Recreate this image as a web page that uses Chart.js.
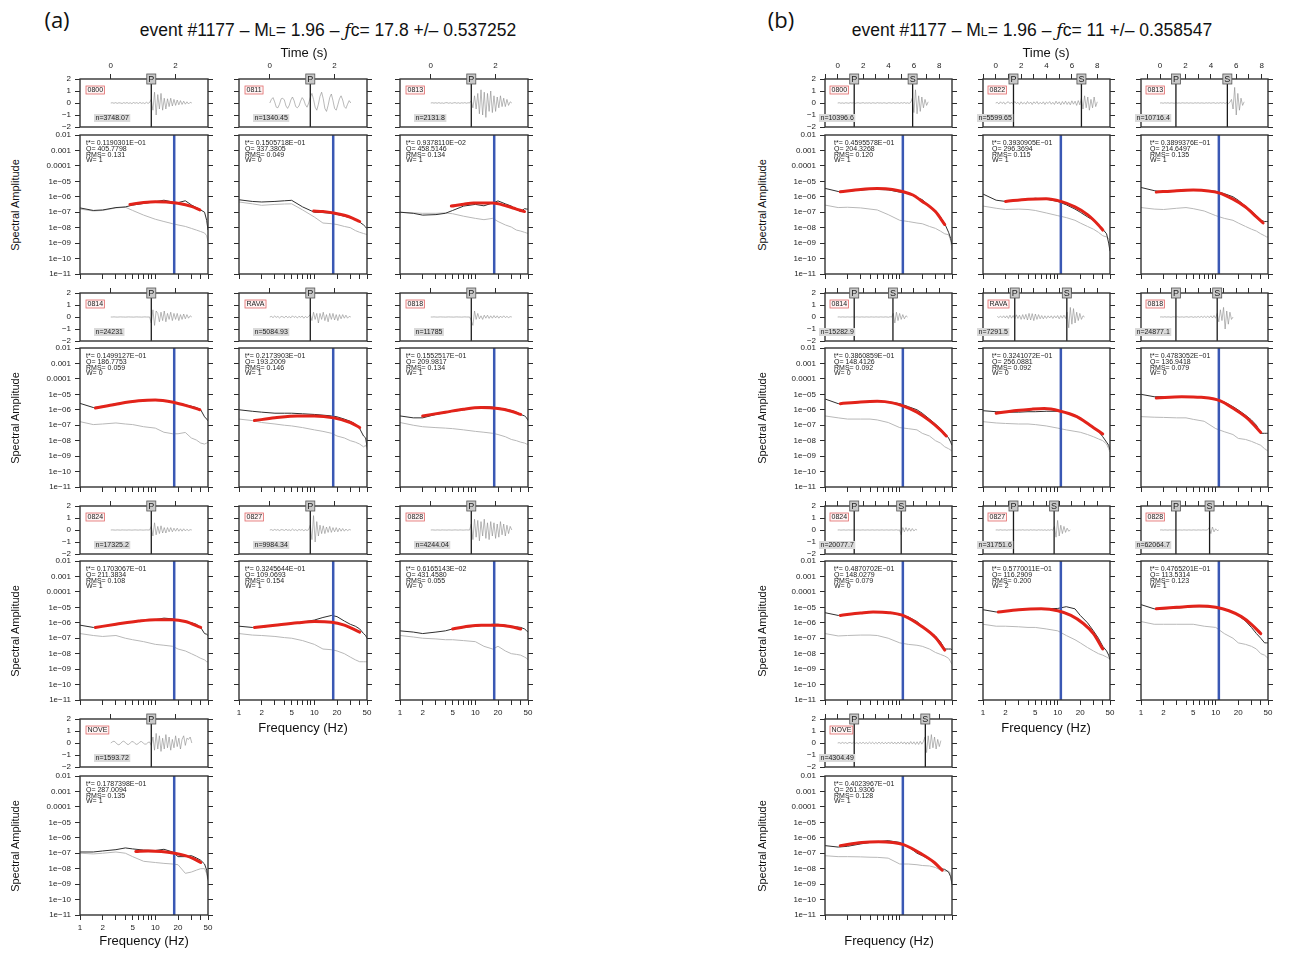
<!DOCTYPE html>
<html>
<head>
<meta charset="utf-8">
<title>event #1177 spectra</title>
<script src="https://cdn.jsdelivr.net/npm/chart.js@4.4.1/dist/chart.umd.min.js"></script>
<style>
  body { margin: 0; background: #fff; }
  #page { position: relative; width: 1289px; height: 955px; overflow: hidden;
          font-family: "Liberation Sans", Arial, sans-serif; color: #111; }
  #page canvas { position: absolute; }
  .txt { position: absolute; white-space: nowrap; line-height: 1; transform: translate(-50%, -50%); }
  .rot { transform: translate(-50%, -50%) rotate(-90deg); }
  .sc { font-size: 70%; }
  .fc { font-family: "DejaVu Serif", serif; font-style: italic; }
</style>
</head>
<body>
<div id="page"></div>
<script>
// ---- shared axes ----
const FREQ = [1, 1.5, 2, 3, 4, 5, 7, 10, 13, 17, 20, 25, 30, 35, 40, 45, 48, 50];
const FREQ_TICKS = [1, 2, 3, 4, 5, 6, 7, 8, 9, 10, 20, 30, 40, 50];
const FREQ_LABELS = [1, 2, 5, 10, 20, 50];
const AMP_TICKS = [1e-2, 1e-3, 1e-4, 1e-5, 1e-6, 1e-7, 1e-8, 1e-9, 1e-10, 1e-11];
const AMP_LABELS = ['0.01', '0.001', '0.0001', '1e\u221205', '1e\u221206', '1e\u221207', '1e\u221208', '1e\u221209', '1e\u221210', '1e\u221211'];
const WAVE_TICKS = [2, 1, 0, -1, -2];
const TIME_TICKS_A = [0, 2];
const TIME_TICKS_B = [-1, 0, 1, 2, 3, 4, 5, 6, 7, 8];
const TIME_LABELS_B = [0, 2, 4, 6, 8];

// ---- event (a): fc = 17.8 ----
const FC_A = 17.8;
const STA_A = ['0800', '0811', '0813', '0814', 'RAVA', '0818', '0824', '0827', '0828', 'NOVE'];
const NLEV_A = ['3748.07', '1340.45', '2131.8', '24231', '5084.93', '11785', '17325.2', '9984.34', '4244.04', '1593.72'];
const TSTAR_A = ['0.1190301E\u221201', '0.1505718E\u221201', '0.9378110E\u221202', '0.1499127E\u221201', '0.2173903E\u221201',
                 '0.1552517E\u221201', '0.1703067E\u221201', '0.3245644E\u221201', '0.6165143E\u221202', '0.1787398E\u221201'];
const Q_A = ['405.7798', '337.3805', '458.5146', '186.7753', '193.2009', '209.9817', '211.3834', '109.0693', '431.4580', '287.0094'];
const RMS_A = ['0.131', '0.049', '0.134', '0.059', '0.146', '0.134', '0.108', '0.154', '0.055', '0.135'];
const W_A = ['1', '0', '1', '0', '1', '1', '1', '1', '0', '1'];
const P_A = [1.25, 1.25, 1.25, 1.25, 1.25, 1.25, 1.25, 1.25, 1.25, 1.25];

const SIG_A_0800 = [1.9e-7, 1.3e-7, 1.4e-7, 2e-7, 2.2e-7, 2.9e-7, 3.7e-7, 4.8e-7, 6e-7, 4.6e-7, 4.2e-7, 5.5e-7, 3e-7, 2e-7, 1.4e-7, 1e-7, 3e-8, 7e-9];
const NOISE_A_0800 = [1.6e-7, 1.2e-7, 1.3e-7, 1.9e-7, 2.1e-7, 1.3e-7, 6.5e-8, 3.5e-8, 2.5e-8, 1.8e-8, 1.5e-8, 1.2e-8, 9e-9, 7e-9, 5.6e-9, 4.5e-9, 3e-9, 1.3e-9];
const FIT_A_0800 = [[4.6, 3.2e-7], [7, 4.2e-7], [10, 4.7e-7], [15, 4.5e-7], [20, 3.8e-7], [30, 2.4e-7], [39, 1.4e-7]];

const SIG_A_0811 = [6.4e-7, 5e-7, 4.6e-7, 5e-7, 5.5e-7, 5.9e-7, 2.2e-7, 1e-7, 9.5e-8, 8.5e-8, 7.2e-8, 5.5e-8, 4.4e-8, 3.4e-8, 2.3e-8, 1.5e-8, 1.1e-8, 8.5e-9];
const NOISE_A_0811 = [4.6e-7, 3.5e-7, 2.8e-7, 3.2e-7, 3.4e-7, 3.5e-7, 1.4e-7, 4.9e-8, 2e-8, 1.8e-8, 1.6e-8, 1.2e-8, 1e-8, 6.5e-9, 5e-9, 4.2e-9, 3.8e-9, 3.6e-9];
const FIT_A_0811 = [[9.8, 1.2e-7], [13, 1.1e-7], [18, 8.8e-8], [25, 6.3e-8], [32, 4.2e-8], [40, 2.5e-8]];

const SIG_A_0813 = [1e-7, 8.5e-8, 6.5e-8, 7e-8, 8.5e-8, 1.3e-7, 2.5e-7, 3.2e-7, 2.6e-7, 4e-7, 5.4e-7, 3.5e-7, 2.5e-7, 1.5e-7, 1.1e-7, 1.7e-7, 1.6e-7, 1.6e-7];
const NOISE_A_0813 = [1e-7, 9e-8, 8.5e-8, 8.5e-8, 9e-8, 8e-8, 5.5e-8, 4e-8, 3.3e-8, 4e-8, 2.5e-8, 1.5e-8, 1.1e-8, 7e-9, 6e-9, 5e-9, 4.5e-9, 4.3e-9];
const FIT_A_0813 = [[4.8, 2.5e-7], [7, 3.3e-7], [9.5, 3.9e-7], [17, 3.9e-7], [26, 2.5e-7], [35, 1.6e-7], [45, 1.1e-7]];

const SIG_A_0814 = [2.6e-6, 1.4e-6, 1.6e-6, 2.5e-6, 3e-6, 3.4e-6, 3.8e-6, 4.3e-6, 3.8e-6, 3e-6, 2.7e-6, 2.1e-6, 1.7e-6, 1.4e-6, 1e-6, 3.5e-7, 2.5e-7, 1.9e-7];
const NOISE_A_0814 = [1.7e-7, 1.1e-7, 1.2e-7, 1.4e-7, 1.2e-7, 1.1e-7, 8e-8, 6.5e-8, 3.5e-8, 2.8e-8, 2.8e-8, 3.4e-8, 1.5e-8, 1.1e-8, 7e-9, 6e-9, 7e-9, 8e-9];
const FIT_A_0814 = [[1.6, 1.3e-6], [3, 2.3e-6], [6, 3.8e-6], [10, 4.3e-6], [17.6, 3e-6], [26.5, 1.8e-6], [39, 1e-6]];

const SIG_A_RAVA = [1e-6, 8e-7, 7e-7, 6e-7, 6e-7, 6e-7, 5.5e-7, 5e-7, 4.5e-7, 4e-7, 3.5e-7, 2.5e-7, 1.8e-7, 1.2e-7, 6e-8, 2e-8, 1.5e-8, 4e-9];
const NOISE_A_RAVA = [2.5e-7, 2e-7, 1.5e-7, 1.2e-7, 1e-7, 9e-8, 7e-8, 5e-8, 4e-8, 3e-8, 2e-8, 1.5e-8, 1e-8, 8e-9, 6e-9, 4e-9, 5e-9, 3e-9];
const FIT_A_RAVA = [[1.6, 2e-7], [3, 3e-7], [6, 4e-7], [10, 4e-7], [18, 3e-7], [30, 1.5e-7], [40, 7e-8]];

const SIG_A_0818 = [4e-7, 3e-7, 3e-7, 5e-7, 6.5e-7, 8e-7, 1e-6, 1.3e-6, 1.6e-6, 1.5e-6, 1.3e-6, 1.1e-6, 9e-7, 7e-7, 5e-7, 4e-7, 3e-7, 2e-7];
const NOISE_A_0818 = [1.5e-7, 1e-7, 8e-8, 7e-8, 6.5e-8, 6e-8, 5e-8, 4e-8, 3.5e-8, 3e-8, 2.5e-8, 1.8e-8, 1.2e-8, 1e-8, 8e-9, 7e-9, 6e-9, 6e-9];
const FIT_A_0818 = [[2, 4e-7], [4, 7e-7], [7, 1.1e-6], [12, 1.4e-6], [20, 1.2e-6], [30, 8e-7], [40, 5e-7]];

const SIG_A_0824 = [7e-7, 5e-7, 6e-7, 8e-7, 1e-6, 1.2e-6, 1.4e-6, 1.6e-6, 2e-6, 1.8e-6, 1.5e-6, 1.2e-6, 1e-6, 8e-7, 5e-7, 2e-7, 1.8e-7, 1.5e-7];
const NOISE_A_0824 = [2e-7, 1.5e-7, 1.3e-7, 1.5e-7, 1e-7, 8e-8, 6e-8, 4e-8, 3.5e-8, 3e-8, 2e-8, 1.5e-8, 1e-8, 7e-9, 5e-9, 4e-9, 3e-9, 3e-9];
const FIT_A_0824 = [[1.6, 5e-7], [3, 8e-7], [6, 1.3e-6], [10, 1.6e-6], [17, 1.6e-6], [25, 1.2e-6], [40, 5e-7]];

const SIG_A_0827 = [6e-7, 5e-7, 5e-7, 7e-7, 8e-7, 9e-7, 1.1e-6, 1.5e-6, 2.2e-6, 3e-6, 2.5e-6, 1.3e-6, 8e-7, 6e-7, 4e-7, 2e-7, 1.5e-7, 1e-7];
const NOISE_A_0827 = [2e-7, 1.6e-7, 1.5e-7, 1.3e-7, 1.1e-7, 1e-7, 7e-8, 4e-8, 2e-8, 1.8e-8, 1.5e-8, 1e-8, 6e-9, 4e-9, 3e-9, 3e-9, 3e-9, 3e-9];
const FIT_A_0827 = [[1.6, 5e-7], [3, 7e-7], [6, 1e-6], [10, 1.2e-6], [17, 1.1e-6], [25, 7e-7], [40, 2.5e-7]];

const SIG_A_0828 = [3e-7, 2.5e-7, 2e-7, 2.5e-7, 3e-7, 4e-7, 5e-7, 6e-7, 7e-7, 8e-7, 8e-7, 7e-7, 6e-7, 5.5e-7, 5e-7, 4e-7, 3e-7, 2.5e-7];
const NOISE_A_0828 = [1.5e-7, 1.2e-7, 1e-7, 9e-8, 8e-8, 8e-8, 7e-8, 6e-8, 3e-8, 2e-8, 3e-8, 1.5e-8, 1e-8, 9e-9, 8e-9, 6e-9, 5e-9, 4e-9];
const FIT_A_0828 = [[5, 4e-7], [8, 6e-7], [12, 7e-7], [20, 7e-7], [30, 5.5e-7], [40, 4e-7]];

const SIG_A_NOVE = [1.2e-7, 1.2e-7, 1.4e-7, 1.7e-7, 2.2e-7, 1.9e-7, 1.6e-7, 1.5e-7, 1.8e-7, 1.2e-7, 6e-8, 6e-8, 7e-8, 5e-8, 3.5e-8, 2e-8, 8e-9, 2e-9];
const NOISE_A_NOVE = [1e-7, 9e-8, 1e-7, 1.2e-7, 1e-7, 6e-8, 3e-8, 2.5e-8, 2.2e-8, 2e-8, 1.8e-8, 5e-9, 6e-9, 8e-9, 1e-8, 1e-8, 5e-9, 1.5e-9];
const FIT_A_NOVE = [[5.5, 1.3e-7], [8, 1.4e-7], [12, 1.3e-7], [18, 1e-7], [25, 7e-8], [32, 4.5e-8], [40, 2.5e-8]];

// vertical component traces, 0.05 s samples from t = 0
const WAVE_DT_A = 0.05;
const W_A_0800 = [0,0.02,-0.02,0.03,-0.03,0.02,0,-0.04,0.03,-0.02,0.04,-0.03,0.02,-0.05,0.04,-0.02,0.03,-0.04,0.05,-0.03,0.02,-0.05,0.06,-0.04,0.05,0.3,-0.6,0.9,-1.0,0.7,-0.5,0.8,-0.6,0.4,-0.5,0.35,-0.3,0.4,-0.25,0.3,-0.2,0.25,-0.15,0.2,-0.12,0.15,-0.1,0.1,-0.08,0.06,0];
const W_A_0811 = [0,0.3,0.45,0.1,-0.35,-0.4,-0.1,0.35,0.4,0.25,-0.25,-0.45,-0.2,0.25,0.5,0.2,-0.3,-0.4,-0.25,0.15,0.45,0.25,-0.15,-0.35,0,0.45,0.8,0.3,-0.35,-0.6,-0.1,0.55,0.9,0.35,-0.45,-0.7,-0.2,0.45,0.75,0.2,-0.45,-0.6,-0.15,0.35,0.6,0.25,-0.3,-0.45,-0.1,0.2,0];
const W_A_0813 = [0,0.02,-0.01,0.02,-0.02,0.03,-0.02,0.01,-0.03,0.02,0.03,-0.02,0.02,-0.03,0.01,0.03,-0.02,0.02,-0.03,0.02,-0.01,0.03,-0.02,0.02,0,0.2,-0.4,0.6,-0.5,0.8,-0.9,1.1,-1.0,0.9,-1.2,0.8,-0.7,1.0,-0.8,0.6,-0.7,0.5,-0.4,0.6,-0.3,0.4,-0.3,0.3,-0.2,0.1,0];
const W_A_0814 = [0,0,0.01,0,-0.01,0,0.01,0,0,-0.01,0,0.01,0,0,-0.01,0,0.01,0,0,-0.01,0,0.01,0,0,0,-0.5,0.6,-0.7,0.5,0.3,-0.4,0.4,-0.3,0.5,-0.4,0.3,-0.2,0.4,-0.3,0.3,-0.2,0.3,-0.3,0.2,-0.2,0.25,-0.15,0.2,-0.1,0.1,0];
const W_A_RAVA = [0,0.05,-0.05,0.08,-0.03,0.05,-0.08,0.04,0.02,-0.06,0.08,-0.05,0.03,-0.07,0.1,-0.04,0.05,-0.08,0.06,-0.03,0.08,-0.1,0.05,-0.06,0.04,0.2,-0.3,0.4,-0.2,0.3,-0.5,0.3,-0.2,0.4,-0.3,0.2,-0.4,0.3,-0.2,0.3,-0.25,0.2,-0.3,0.2,-0.15,0.2,-0.1,0.15,-0.1,0.05,0];
const W_A_0818 = [0,0,0.01,0,-0.01,0,0.01,0,0,-0.01,0,0.01,0,0,-0.01,0,0.01,0,0,-0.01,0,0.01,0,0,0,-0.3,-0.7,0.5,-0.2,0.3,-0.15,0.1,-0.2,0.15,-0.1,0.15,-0.12,0.1,-0.1,0.12,-0.08,0.1,-0.1,0.08,-0.06,0.1,-0.05,0.05,-0.05,0.03,0];
const W_A_0824 = [0,0.01,0,-0.01,0.01,0,-0.01,0.01,0,0,-0.01,0.01,0,-0.01,0,0.01,0,-0.01,0.01,0,-0.01,0,0.01,0,0,0.3,-0.5,0.6,-0.4,0.3,-0.3,0.35,-0.25,0.2,-0.25,0.2,-0.15,0.2,-0.15,0.15,-0.1,0.15,-0.1,0.1,-0.1,0.1,-0.08,0.06,-0.05,0.03,0];
const W_A_0827 = [0,0.03,-0.04,0.05,-0.02,0.04,-0.05,0.03,0.02,-0.04,0.06,-0.03,0.02,-0.05,0.08,-0.04,0.03,-0.06,0.05,-0.02,0.04,-0.06,0.03,-0.04,0.03,0.4,-0.8,1.2,-1.0,0.7,-0.5,0.4,-0.3,0.35,-0.3,0.25,-0.2,0.3,-0.2,0.2,-0.15,0.2,-0.15,0.15,-0.1,0.12,-0.1,0.08,-0.06,0.04,0];
const W_A_0828 = [0,0.01,0,-0.01,0.01,0,-0.01,0.01,0,0,-0.01,0.01,0,-0.01,0,0.01,0,-0.01,0.01,0,-0.01,0,0.01,0,0,0.5,-0.8,0.9,-0.6,0.8,-0.9,0.7,-0.5,0.9,-0.7,0.6,-0.8,0.7,-0.5,0.6,-0.7,0.5,-0.6,0.7,-0.4,0.5,-0.5,0.4,-0.3,0.3,0];
const W_A_NOVE = [0,0.1,0.15,0.05,-0.1,-0.15,-0.05,0.1,0.15,0.05,-0.1,-0.12,0,0.12,0.1,-0.05,-0.12,-0.05,0.1,0.12,0,-0.1,-0.08,0.05,0.08,-0.2,0.5,-0.6,0.8,-0.5,0.6,-0.7,0.4,-0.5,0.7,-0.4,0.5,-0.6,0.3,-0.4,0.6,-0.3,0.4,-0.5,0.3,0.6,-0.2,0.4,0.3,0.5,0];

// ---- event (b): fc = 11 ----
const FC_B = 11;
const STA_B = ['0800', '0822', '0813', '0814', 'RAVA', '0818', '0824', '0827', '0828', 'NOVE'];
const NLEV_B = ['10396.6', '5599.65', '10716.4', '15282.9', '7291.5', '24877.1', '20077.7', '31751.6', '62064.7', '4304.49'];
const TSTAR_B = ['0.4595578E\u221201', '0.3930905E\u221201', '0.3899376E\u221201', '0.3860859E\u221201', '0.3241072E\u221201',
                 '0.4783052E\u221201', '0.4870702E\u221201', '0.5770011E\u221201', '0.4765201E\u221201', '0.4023967E\u221201'];
const Q_B = ['204.3268', '296.3694', '214.6497', '148.4126', '256.0881', '136.9418', '148.0279', '116.2909', '113.5314', '261.9306'];
const RMS_B = ['0.120', '0.115', '0.135', '0.092', '0.092', '0.079', '0.079', '0.200', '0.123', '0.128'];
const W_B = ['1', '1', '1', '0', '0', '0', '0', '2', '1', '1'];
const P_B = [1.3, 1.4, 1.25, 1.3, 1.5, 1.25, 1.3, 1.4, 1.25, 1.3];
const S_B = [5.9, 6.75, 5.3, 4.35, 5.6, 4.5, 5.0, 4.6, 3.9, 6.9];

const SIG_B_0800 = [3.5e-6, 2.2e-6, 2.3e-6, 2.7e-6, 3e-6, 3e-6, 2.8e-6, 2e-6, 1.7e-6, 9e-7, 6.5e-7, 2.5e-7, 1.2e-7, 5e-8, 1.8e-8, 5e-9, 2e-9, 8e-10];
const NOISE_B_0800 = [2.9e-7, 2e-7, 2.1e-7, 1.9e-7, 1.6e-7, 1.4e-7, 7e-8, 3e-8, 2.5e-8, 2e-8, 1.8e-8, 1.2e-8, 9e-9, 6e-9, 4e-9, 3.5e-9, 1.5e-9, 3.5e-10];
const FIT_B_0800 = [[1.6, 2.1e-6], [3, 3e-6], [5, 3.4e-6], [8, 3e-6], [11.2, 2.1e-6], [15, 1.3e-6], [20, 5e-7], [25, 2.4e-7], [30, 1.1e-7], [40, 1.6e-8]];

const SIG_B_0822 = [1.5e-6, 6e-7, 5e-7, 6e-7, 7e-7, 8e-7, 7e-7, 5e-7, 3e-7, 1.6e-7, 1e-7, 5e-8, 3e-8, 1.5e-8, 8e-9, 4e-9, 1e-9, 3e-10];
const NOISE_B_0822 = [2.5e-7, 1.8e-7, 1.5e-7, 1.6e-7, 1.5e-7, 1.3e-7, 9e-8, 6e-8, 4.5e-8, 3e-8, 2e-8, 1.2e-8, 8e-9, 5e-9, 3e-9, 2.5e-9, 2e-9, 1.5e-9];
const FIT_B_0822 = [[2, 5e-7], [4, 7e-7], [7, 7.5e-7], [11, 5e-7], [17, 2.2e-7], [25, 7e-8], [35, 1.5e-8], [40, 7e-9]];

const SIG_B_0813 = [4e-6, 2.5e-6, 2e-6, 2.3e-6, 2.5e-6, 2.7e-6, 2.6e-6, 2.3e-6, 1.6e-6, 1e-6, 6e-7, 2.5e-7, 1.2e-7, 6e-8, 3e-8, 2.5e-8, 2.5e-8, 2.5e-8];
const NOISE_B_0813 = [2e-7, 1.6e-7, 1.5e-7, 1.8e-7, 2e-7, 1.7e-7, 1.2e-7, 6e-8, 4e-8, 3e-8, 2e-8, 1.2e-8, 8e-9, 6e-9, 4e-9, 3e-9, 2.5e-9, 2.5e-9];
const FIT_B_0813 = [[1.6, 2e-6], [3, 2.5e-6], [5, 2.7e-6], [8, 2.4e-6], [11, 1.8e-6], [17, 7e-7], [25, 2.2e-7], [35, 5e-8], [43, 2e-8]];

const SIG_B_0814 = [5e-6, 2.5e-6, 2.6e-6, 3e-6, 3.3e-6, 3.5e-6, 3.3e-6, 2.5e-6, 1.6e-6, 1e-6, 6e-7, 2.5e-7, 1.2e-7, 6e-8, 3e-8, 1.5e-8, 8e-9, 5e-9];
const NOISE_B_0814 = [4e-7, 3e-7, 2.5e-7, 2.5e-7, 2.5e-7, 2.2e-7, 1.5e-7, 7e-8, 6e-8, 5e-8, 3e-8, 2e-8, 1e-8, 7e-9, 4e-9, 3e-9, 2.5e-9, 2e-9];
const FIT_B_0814 = [[1.6, 2.5e-6], [3, 3.2e-6], [5, 3.5e-6], [8, 2.8e-6], [11, 1.8e-6], [17, 7e-7], [25, 2e-7], [35, 5e-8], [42, 2e-8]];

const SIG_B_RAVA = [8.7e-7, 7.5e-7, 7e-7, 7e-7, 7.5e-7, 7.5e-7, 8e-7, 8e-7, 6.5e-7, 4.5e-7, 3e-7, 1.3e-7, 7.5e-8, 4e-8, 1.8e-8, 8e-9, 5e-9, 2.5e-9];
const NOISE_B_RAVA = [1.7e-7, 1.4e-7, 1.3e-7, 1.2e-7, 1.2e-7, 1.1e-7, 9e-8, 6.5e-8, 5e-8, 4e-8, 3.5e-8, 2.5e-8, 1.8e-8, 1.3e-8, 1e-8, 6e-9, 3e-9, 1.8e-9];
const FIT_B_RAVA = [[1.5, 5.9e-7], [2.8, 9e-7], [4.5, 1.1e-6], [6.6, 1.2e-6], [10.6, 8.4e-7], [18, 3.6e-7], [27, 1e-7], [40, 2.7e-8]];

const SIG_B_0818 = [1e-5, 7e-6, 7e-6, 7e-6, 7.2e-6, 7.2e-6, 6.5e-6, 4.5e-6, 3.2e-6, 1.6e-6, 9.7e-7, 4.5e-7, 2.2e-7, 1e-7, 3e-8, 3e-8, 3e-8, 3e-8];
const NOISE_B_0818 = [3.6e-7, 3.3e-7, 3.2e-7, 3e-7, 3e-7, 2.4e-7, 1.8e-7, 6e-8, 3.8e-8, 2.5e-8, 1.4e-8, 1.2e-8, 9e-9, 6.6e-9, 5e-9, 3e-9, 2.5e-9, 2e-9];
const FIT_B_0818 = [[1.6, 5.7e-6], [3.5, 7.1e-6], [6.4, 6.4e-6], [11.3, 3.9e-6], [17.3, 1.2e-6], [27, 2.6e-7], [40, 3.4e-8]];

const SIG_B_0824 = [4.5e-6, 3e-6, 3.5e-6, 4.2e-6, 5e-6, 5e-6, 4.6e-6, 3.2e-6, 2.4e-6, 1.2e-6, 6e-7, 2.8e-7, 1.4e-7, 6e-8, 2e-8, 2e-8, 2e-8, 1.8e-8];
const NOISE_B_0824 = [2e-7, 1.4e-7, 1.5e-7, 1.6e-7, 1.6e-7, 1.5e-7, 1e-7, 5e-8, 4e-8, 3.5e-8, 3e-8, 2e-8, 1.2e-8, 9e-9, 7e-9, 5e-9, 3e-9, 2e-9];
const FIT_B_0824 = [[1.6, 3e-6], [3, 4.3e-6], [4.4, 5e-6], [7.2, 4.5e-6], [11.4, 2.8e-6], [20, 5.5e-7], [30, 1.1e-7], [40, 1.7e-8]];

const SIG_B_0827 = [7e-6, 5e-6, 5.5e-6, 7e-6, 7.5e-6, 8e-6, 8e-6, 8.5e-6, 1.1e-5, 8e-6, 3e-6, 1e-6, 3e-7, 1e-7, 3e-8, 1.5e-8, 8e-9, 4e-9];
const NOISE_B_0827 = [8e-7, 6e-7, 6e-7, 5.5e-7, 5e-7, 5e-7, 4e-7, 3e-7, 1.5e-7, 8e-8, 5e-8, 2.5e-8, 1.5e-8, 1e-8, 8e-9, 6e-9, 5e-9, 5e-9];
const FIT_B_0827 = [[1.6, 5e-6], [3, 7e-6], [6, 8e-6], [10, 6e-6], [15, 3e-6], [22, 9e-7], [30, 2e-7], [40, 2e-8]];

const SIG_B_0828 = [1.5e-5, 8e-6, 8e-6, 9e-6, 1e-5, 1.1e-5, 1.1e-5, 1e-5, 8e-6, 5e-6, 3e-6, 1.3e-6, 5e-7, 2e-7, 1e-7, 5e-8, 5e-8, 5e-8];
const NOISE_B_0828 = [1.2e-6, 8e-7, 8e-7, 8e-7, 8e-7, 8e-7, 6e-7, 5e-7, 2e-7, 1e-7, 5e-8, 4e-8, 3e-8, 2e-8, 1e-8, 8e-9, 6e-9, 5e-9];
const FIT_B_0828 = [[1.6, 8e-6], [3, 1e-5], [6, 1.2e-5], [10, 1e-5], [15, 6e-6], [22, 2.5e-6], [30, 8e-7], [40, 2e-7]];

const SIG_B_NOVE = [3.1e-7, 2.5e-7, 2.8e-7, 4e-7, 5e-7, 5.5e-7, 6.5e-7, 5e-7, 2.7e-7, 1e-7, 7e-8, 4e-8, 2e-8, 1e-8, 9e-9, 6e-9, 3e-9, 1e-9];
const NOISE_B_NOVE = [6.9e-8, 6e-8, 6e-8, 5.8e-8, 5.5e-8, 5.4e-8, 4.8e-8, 2e-8, 2e-8, 1.8e-8, 1.6e-8, 1.5e-8, 1.2e-8, 8e-9, 7e-9, 7e-9, 5e-9, 6e-10];
const FIT_B_NOVE = [[1.6, 3.1e-7], [3.1, 5e-7], [5.2, 5.6e-7], [8, 5e-7], [11.2, 3.6e-7], [19.6, 8.9e-8], [29, 2.5e-8], [37, 7.9e-9]];

// vertical component traces, 0.125 s samples from t = 0 (null = no data)
const WAVE_DT_B = 0.125;
const W_B_0800 = [0,0.02,-0.02,0.01,-0.03,0.02,0,-0.02,0.03,-0.01,0.02,-0.03,0.01,0.02,-0.02,0,0.03,-0.02,0.01,-0.01,0.02,-0.03,0.02,0,-0.02,0.03,-0.01,0.01,-0.02,0.02,0,-0.03,0.02,0.01,-0.02,0.03,-0.02,0,0.02,-0.03,0.03,-0.02,0.04,-0.03,0.02,-0.04,0.05,0.4,-0.8,1.1,-0.9,0.6,-0.7,0.5,-0.4,0.3,-0.2,0.1];
const W_B_0822 = [0,0.05,-0.08,0.1,-0.05,0.08,-0.1,0.05,0.1,-0.06,0.08,-0.1,0.12,-0.05,0.06,-0.12,0.1,-0.08,0.05,-0.1,0.12,-0.06,0.08,-0.12,0.1,-0.05,0.12,-0.1,0.06,-0.08,0.1,-0.12,0.08,-0.05,0.12,-0.1,0.06,-0.12,0.15,-0.08,0.1,-0.15,0.12,-0.1,0.15,-0.12,0.1,-0.15,0.18,-0.1,0.15,-0.2,0.2,-0.15,0.4,-0.5,0.6,-0.4,0.5,-0.6,0.3,-0.4,0.5,-0.3,0.1];
const W_B_0813 = [0,0.01,-0.02,0.02,-0.01,0.02,-0.02,0.01,0,-0.02,0.02,-0.01,0.01,-0.02,0.02,0,-0.01,0.02,-0.02,0.01,0,-0.02,0.02,-0.01,0.02,-0.02,0.01,0,-0.02,0.02,-0.01,0.02,-0.02,0.01,0.02,-0.03,0.02,-0.02,0.03,-0.02,0.03,-0.04,0.03,-0.05,0.06,0.3,-0.5,1.3,-1.0,0.8,-0.6,0.4,-0.2,0.1];
const W_B_0814 = [0,0.01,-0.01,0.01,0,-0.01,0.01,0,-0.01,0.01,0,-0.01,0.01,0,-0.01,0.01,0,-0.01,0.01,0,-0.01,0.01,0,-0.01,0.01,0,-0.01,0.01,0,-0.01,0.01,0,-0.02,0.02,-0.01,0.3,-0.5,0.4,-0.3,0.3,-0.2,0.2,-0.15,0.1,0];
const W_B_RAVA = [null,0.05,-0.05,0.08,-0.06,0.1,-0.08,0.1,-0.12,0.15,-0.1,0.12,-0.15,0.18,-0.12,0.15,-0.2,0.2,-0.18,0.22,-0.25,0.3,-0.25,0.28,-0.3,0.25,-0.2,0.2,-0.15,0.12,-0.15,0.1,-0.12,0.1,-0.08,0.1,-0.12,0.1,-0.08,0.12,-0.15,0.12,-0.1,0.15,-0.12,0.4,-0.9,0.8,-0.6,0.7,-0.5,0.4,-0.3,0.3,-0.2,0.1,0];
const W_B_0818 = [0,0.01,-0.01,0.02,-0.01,0.01,0,-0.02,0.01,0.01,-0.01,0.02,-0.01,0,0.01,-0.02,0.01,0.02,-0.02,0.01,0.02,-0.03,0.02,-0.02,0.04,-0.03,0.05,-0.04,0.06,-0.05,0.08,-0.06,0.1,-0.08,0.12,-0.1,0.3,-0.4,0.6,-0.3,0.8,-1.0,0.5,-0.6,0.4,-0.2,0];
const W_B_0824 = [0,0.01,-0.01,0,0.01,-0.01,0,0.01,-0.01,0,0.01,-0.01,0,0.01,-0.01,0,0.01,-0.01,0,0.01,-0.01,0,0.01,-0.01,0,0.01,-0.01,0,0.01,-0.01,0,0.01,-0.01,0,0.01,-0.01,0,0.02,-0.02,0.01,-0.4,0.2,-0.15,0.2,-0.1,0.15,-0.1,0.12,-0.08,0.05,0];
const W_B_0827 = [0,0.01,-0.01,0.02,-0.01,0,0.01,-0.02,0.01,0,0.02,-0.01,0.01,-0.02,0,0.01,-0.01,0.02,-0.01,0,0.01,-0.02,0.02,-0.01,0.01,0,-0.02,0.02,-0.01,0.01,-0.02,0.02,-0.03,0.02,-0.02,0.03,-0.02,0.3,-0.6,0.8,-0.5,0.4,-0.3,0.3,-0.2,0.15,-0.1,0];
const W_B_0828 = [0,0.01,-0.01,0.01,0,-0.01,0.01,0,-0.01,0.01,0,-0.01,0.01,0,-0.01,0.01,0,-0.01,0.01,0,-0.01,0.01,0,-0.01,0.01,0,-0.01,0.01,0,-0.01,0.01,0.2,-0.3,0.25,-0.15,0.1,-0.05,0];
const W_B_NOVE = [0,0.03,-0.04,0.05,-0.03,0.04,-0.05,0.03,0.04,-0.05,0.06,-0.04,0.03,-0.06,0.05,-0.04,0.06,-0.05,0.04,-0.06,0.07,-0.05,0.06,-0.07,0.05,-0.06,0.08,-0.06,0.07,-0.08,0.06,-0.07,0.08,-0.06,0.09,-0.08,0.07,-0.09,0.08,-0.07,0.1,-0.08,0.09,-0.1,0.08,-0.1,0.12,-0.09,0.1,-0.12,0.1,-0.12,0.14,-0.1,0.12,0.5,-0.8,0.6,-0.5,0.7,-0.4,0.5,-0.5,0.3,-0.3,0.2];

// ---- page layout ----
const WAVE_TOP = [79, 293, 506, 719];
const SPEC_TOP = [135, 348, 561, 776];
const WAVE_H = 48, SPEC_H = 139;
const FONT = '"Liberation Sans", Arial, sans-serif';
const INK = '#2c2c2c';

const PANELS = [
  {
    cols: [80, 239, 400], boxW: 128, fc: FC_A, dt: WAVE_DT_A,
    sta: STA_A, nlev: NLEV_A, tstar: TSTAR_A, q: Q_A, rms: RMS_A, w: W_A, tp: P_A, ts: null,
    sig: [SIG_A_0800, SIG_A_0811, SIG_A_0813, SIG_A_0814, SIG_A_RAVA, SIG_A_0818, SIG_A_0824, SIG_A_0827, SIG_A_0828, SIG_A_NOVE],
    noise: [NOISE_A_0800, NOISE_A_0811, NOISE_A_0813, NOISE_A_0814, NOISE_A_RAVA, NOISE_A_0818, NOISE_A_0824, NOISE_A_0827, NOISE_A_0828, NOISE_A_NOVE],
    fits: [FIT_A_0800, FIT_A_0811, FIT_A_0813, FIT_A_0814, FIT_A_RAVA, FIT_A_0818, FIT_A_0824, FIT_A_0827, FIT_A_0828, FIT_A_NOVE],
    waves: [W_A_0800, W_A_0811, W_A_0813, W_A_0814, W_A_RAVA, W_A_0818, W_A_0824, W_A_0827, W_A_0828, W_A_NOVE],
    waveRange: [[-0.95, 3.0], [-0.95, 3.0], [-0.95, 3.0]],
    timeTicks: TIME_TICKS_A, timeLabels: TIME_TICKS_A,
    freqLabelled: [7, 8, 9], tagX: 6, nX: 14, textX: 6
  },
  {
    cols: [825, 983, 1141], boxW: 127, fc: FC_B, dt: WAVE_DT_B,
    sta: STA_B, nlev: NLEV_B, tstar: TSTAR_B, q: Q_B, rms: RMS_B, w: W_B, tp: P_B, ts: S_B,
    sig: [SIG_B_0800, SIG_B_0822, SIG_B_0813, SIG_B_0814, SIG_B_RAVA, SIG_B_0818, SIG_B_0824, SIG_B_0827, SIG_B_0828, SIG_B_NOVE],
    noise: [NOISE_B_0800, NOISE_B_0822, NOISE_B_0813, NOISE_B_0814, NOISE_B_RAVA, NOISE_B_0818, NOISE_B_0824, NOISE_B_0827, NOISE_B_0828, NOISE_B_NOVE],
    fits: [FIT_B_0800, FIT_B_0822, FIT_B_0813, FIT_B_0814, FIT_B_RAVA, FIT_B_0818, FIT_B_0824, FIT_B_0827, FIT_B_0828, FIT_B_NOVE],
    waves: [W_B_0800, W_B_0822, W_B_0813, W_B_0814, W_B_RAVA, W_B_0818, W_B_0824, W_B_0827, W_B_0828, W_B_NOVE],
    waveRange: [[-1, 9], [-1, 9], [-1.5, 8.5]],
    timeTicks: TIME_TICKS_B, timeLabels: TIME_LABELS_B,
    freqLabelled: [7, 8], tagX: 5, nX: -6, textX: 9
  }
];

const page = document.getElementById('page');

function addText(html, x, y, size, extra) {
  const d = document.createElement('div');
  d.className = 'txt' + (extra && extra.rotate ? ' rot' : '');
  d.innerHTML = html;
  d.style.left = x + 'px';
  d.style.top = y + 'px';
  d.style.fontSize = size + 'px';
  if (extra && extra.family) d.style.fontFamily = extra.family;
  page.appendChild(d);
}

function makeCanvas(x, y, w, h) {
  const c = document.createElement('canvas');
  c.width = w; c.height = h;
  c.style.left = x + 'px'; c.style.top = y + 'px';
  c.style.width = w + 'px'; c.style.height = h + 'px';
  page.appendChild(c);
  return c;
}

// axis with fixed thickness so every plot box lands on the same grid
function axis(o) {
  const horizontal = o.position === 'top' || o.position === 'bottom';
  return {
    type: o.type, position: o.position, min: o.min, max: o.max,
    afterBuildTicks: s => { s.ticks = o.ticks.map(v => ({value: v})); },
    afterFit: s => {
      if (horizontal) s.height = o.size; else s.width = o.size;
      s.paddingLeft = s.paddingRight = s.paddingTop = s.paddingBottom = 0;
    },
    grid: {drawOnChartArea: false, drawTicks: true, tickLength: 5, color: INK, lineWidth: 1},
    border: {display: false},
    ticks: {
      display: !!o.labels, autoSkip: false, maxRotation: 0, minRotation: 0,
      padding: horizontal ? 3 : 4, color: '#1c1c1c', font: {family: FONT, size: 8},
      callback: (v, k) => (o.labels ? o.labels(v, k) : '')
    }
  };
}

function baseOptions(top, bottom) {
  return {
    responsive: false, animation: false, devicePixelRatio: 1, events: [],
    layout: {padding: {top, bottom, left: 0, right: 0}},
    plugins: {legend: {display: false}, tooltip: {enabled: false}},
    elements: {point: {radius: 0}, line: {tension: 0, fill: false}}
  };
}

const frame = {
  id: 'frame',
  afterDatasetsDraw(chart) {
    const {ctx, chartArea: a} = chart;
    ctx.save();
    ctx.strokeStyle = '#333';
    ctx.lineWidth = 1.4;
    ctx.strokeRect(a.left, a.top, a.right - a.left, a.bottom - a.top);
    ctx.restore();
  }
};

function tag(ctx, text, x, y, fill, stroke) {
  ctx.font = '7px ' + FONT;
  const w = ctx.measureText(text).width + 3;
  ctx.fillStyle = fill;
  ctx.fillRect(x, y, w, 8);
  if (stroke) {
    ctx.strokeStyle = stroke;
    ctx.lineWidth = 0.8;
    ctx.strokeRect(x, y, w, 8);
  }
  ctx.fillStyle = '#222';
  ctx.textAlign = 'left';
  ctx.textBaseline = 'middle';
  ctx.fillText(text, x + 1.5, y + 4.3);
}

const fmtSigned = v => (v < 0 ? '\u2212' + Math.abs(v) : String(v));

function waveChart(p, i) {
  const row = Math.floor(i / 3), col = i % 3;
  const bx = p.cols[col], by = WAVE_TOP[row];
  const LM = 34, RM = 8, TM = 20, BM = 4;
  const canvas = makeCanvas(bx - LM, by - TM, p.boxW + LM + RM, WAVE_H + TM + BM);

  const trace = [];
  p.waves[i].forEach((v, k) => { if (v !== null) trace.push({x: k * p.dt, y: v}); });
  const phases = [{name: 'P', t: p.tp[i]}];
  if (p.ts) phases.push({name: 'S', t: p.ts[i]});

  const datasets = phases.map(ph => ({
    data: [{x: ph.t, y: -2}, {x: ph.t, y: 2}], borderColor: '#1a1a1a', borderWidth: 1.3
  }));
  datasets.push({data: trace, borderColor: '#8a8a8a', borderWidth: 0.6});

  const [xmin, xmax] = p.waveRange[col];
  const opts = baseOptions(0, BM);
  opts.scales = {
    x: axis({type: 'linear', position: 'top', min: xmin, max: xmax, ticks: p.timeTicks, size: TM,
             labels: row === 0 ? (v => (p.timeLabels.includes(v) ? String(v) : '')) : null}),
    y: axis({type: 'linear', position: 'left', min: -2, max: 2, ticks: WAVE_TICKS, size: LM,
             labels: col === 0 ? fmtSigned : null}),
    y2: axis({type: 'linear', position: 'right', min: -2, max: 2, ticks: WAVE_TICKS, size: RM, labels: null})
  };

  const marks = {
    id: 'marks',
    afterDraw(chart) {
      const {ctx, chartArea: a, scales} = chart;
      ctx.save();
      phases.forEach(ph => {
        const x = scales.x.getPixelForValue(ph.t);
        ctx.fillStyle = '#c9c9c9';
        ctx.fillRect(x - 4.5, a.top - 5, 9, 10);
        ctx.strokeStyle = '#555';
        ctx.lineWidth = 0.8;
        ctx.strokeRect(x - 4.5, a.top - 5, 9, 10);
        ctx.fillStyle = '#222';
        ctx.font = '9px ' + FONT;
        ctx.textAlign = 'center';
        ctx.textBaseline = 'middle';
        ctx.fillText(ph.name, x, a.top + 0.5);
      });
      tag(ctx, p.sta[i], a.left + p.tagX, a.top + 7, '#fff4f4', '#e06a6a');
      tag(ctx, 'n=' + p.nlev[i], a.left + p.nX, a.top + 35, '#dadada', null);
      ctx.restore();
    }
  };

  new Chart(canvas, {type: 'line', data: {datasets}, options: opts, plugins: [frame, marks]});
}

function specChart(p, i) {
  const row = Math.floor(i / 3), col = i % 3;
  const bx = p.cols[col], by = SPEC_TOP[row];
  const LM = 50, RM = 8, TM = 4, BM = 18;
  const canvas = makeCanvas(bx - LM, by - TM, p.boxW + LM + RM, SPEC_H + TM + BM);

  const curve = vals => FREQ.map((f, k) => ({x: f, y: vals[k]}));
  const datasets = [
    {data: p.fits[i].map(([f, a]) => ({x: f, y: a})), borderColor: '#e2231a', borderWidth: 3,
     cubicInterpolationMode: 'monotone', borderCapStyle: 'round'},
    {data: [{x: p.fc, y: AMP_TICKS[AMP_TICKS.length - 1]}, {x: p.fc, y: AMP_TICKS[0]}],
     borderColor: '#3a58b4', borderWidth: 2.5},
    {data: curve(p.sig[i]), borderColor: '#2f2f2f', borderWidth: 1},
    {data: curve(p.noise[i]), borderColor: '#b8b8b8', borderWidth: 1}
  ];

  const opts = baseOptions(TM, 0);
  opts.scales = {
    x: axis({type: 'logarithmic', position: 'bottom', min: 1, max: 50, ticks: FREQ_TICKS, size: BM,
             labels: p.freqLabelled.includes(i) ? (v => (FREQ_LABELS.includes(v) ? String(v) : '')) : null}),
    y: axis({type: 'logarithmic', position: 'left', min: 1e-11, max: 1e-2, ticks: AMP_TICKS, size: LM,
             labels: col === 0 ? ((v, k) => AMP_LABELS[k]) : null}),
    y2: axis({type: 'logarithmic', position: 'right', min: 1e-11, max: 1e-2, ticks: AMP_TICKS, size: RM, labels: null})
  };

  // fit summary printed in the upper-left corner of each spectrum
  const lines = ['t*= ' + p.tstar[i], 'Q= ' + p.q[i], 'RMS= ' + p.rms[i], 'W= ' + p.w[i]];
  const notes = {
    id: 'notes',
    afterDraw(chart) {
      const {ctx, chartArea: a} = chart;
      ctx.save();
      ctx.font = '7px ' + FONT;
      ctx.fillStyle = '#1c1c1c';
      ctx.textAlign = 'left';
      ctx.textBaseline = 'middle';
      lines.forEach((s, k) => ctx.fillText(s, a.left + p.textX, a.top + 8 + k * 5.8));
      ctx.restore();
    }
  };

  new Chart(canvas, {type: 'line', data: {datasets}, options: opts, plugins: [frame, notes]});
}

PANELS.forEach(p => {
  for (let i = 0; i < p.sta.length; i++) {
    waveChart(p, i);
    specChart(p, i);
  }
});

// ---- titles and axis captions ----
addText('(a)', 57, 19, 22, {family: '"Open Sans", sans-serif'});
addText('(b)', 781, 19, 22, {family: '"Open Sans", sans-serif'});
addText('event #1177 \u2013 M<span class="sc">L</span>= 1.96 \u2013 <span class="fc">\u0192</span>c= 17.8 +/\u2013 0.537252', 328, 31, 17.5);
addText('event #1177 \u2013 M<span class="sc">L</span>= 1.96 \u2013 <span class="fc">\u0192</span>c= 11 +/\u2013 0.358547', 1032, 31, 17.5);
addText('Time (s)', 304, 52, 13);
addText('Time (s)', 1046, 52, 13);
SPEC_TOP.forEach(t => {
  addText('Spectral Amplitude', 15, t + SPEC_H / 2, 11, {rotate: true});
  addText('Spectral Amplitude', 762, t + SPEC_H / 2, 11, {rotate: true});
});
addText('Frequency (Hz)', 303, 727, 13);
addText('Frequency (Hz)', 144, 940, 13);
addText('Frequency (Hz)', 1046, 727, 13);
addText('Frequency (Hz)', 889, 940, 13);
</script>
</body>
</html>
